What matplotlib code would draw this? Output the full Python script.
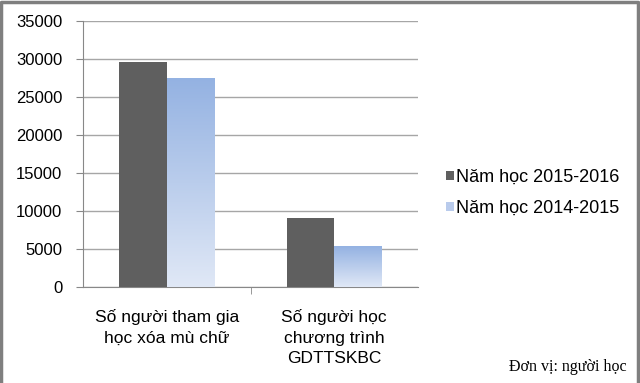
import numpy as np
import matplotlib
matplotlib.use('Agg')
import matplotlib.pyplot as plt
from matplotlib.colors import LinearSegmentedColormap
from matplotlib.patches import Patch
from matplotlib.lines import Line2D

categories = ["Số người tham gia\nhọc xóa mù chữ", "Số người học\nchương trình\nGDTTSKBC"]
series_names = ["Năm học 2015-2016", "Năm học 2014-2015"]
values_2015_2016 = [29600, 9100]
values_2014_2015 = [27500, 5300]
y_ticks = [0, 5000, 10000, 15000, 20000, 25000, 30000, 35000]

plt.rcParams['font.family'] = ['Liberation Sans', 'DejaVu Sans']

fig = plt.figure(figsize=(6.4, 3.83), dpi=100)
ax = fig.add_axes([83 / 640, 1 - 287 / 383, 335 / 640, 266 / 383])

x = np.arange(len(categories))
width = 0.285
dark = "#5f5f5f"
blue_cmap = LinearSegmentedColormap.from_list("blue", ["#e0e8f6", "#94b2e2"])

ax.bar(x - width / 2, values_2015_2016, width, color=dark, zorder=3)
bars_b = ax.bar(x + width / 2, values_2014_2015, width, color="none", zorder=3)

# gradient fill for the light series
grad = np.linspace(0, 1, 256).reshape(-1, 1)
for b in bars_b:
    bx, by, bw, bh = b.get_x(), b.get_y(), b.get_width(), b.get_height()
    ax.imshow(grad, cmap=blue_cmap, origin="lower", aspect="auto",
              extent=[bx, bx + bw, by, by + bh], zorder=3)

ax.set_xlim(-0.5, len(categories) - 0.5)
ax.set_ylim(0, 35000)
ax.set_yticks(y_ticks)
ax.set_yticklabels([str(v) for v in y_ticks], fontsize=12)
ax.set_xticks(x)
ax.set_xticklabels(categories, fontsize=12.5, linespacing=1.45)
ax.set_xticks([0.5], minor=True)
ax.tick_params(axis="x", which="major", length=0, pad=16)
ax.tick_params(axis="x", which="minor", length=5, color="#888888", direction="out")
ax.tick_params(axis="y", length=5, color="#888888", pad=10)

ax.grid(axis="y", color="#a6a6a6", linewidth=1, zorder=0)
for s in ["top", "right"]:
    ax.spines[s].set_visible(False)
ax.spines["left"].set_color("#888888")
ax.spines["bottom"].set_color("#888888")

# legend with small square markers
handles = [Patch(facecolor=dark), Patch(facecolor="#b9cbec")]
fig.legend(handles, series_names, loc="upper left", bbox_to_anchor=(437 / 640, 1 - 160 / 383),
           frameon=False, fontsize=13, handlelength=0.42, handleheight=0.42,
           handletextpad=0.15, labelspacing=0.78, borderpad=0)

fig.text(627 / 640, 1 - 367 / 383, "Đơn vị: người học", family="Liberation Serif",
         fontsize=11.5, ha="right", va="center")

# outer frame (left, top, right)
fig.lines.append(Line2D([0.002, 0.002, 0.997, 0.997], [0, 0.996, 0.996, 0],
                        transform=fig.transFigure, color="#7f7f7f", linewidth=2.5))

fig.savefig("out.png", dpi=100)
